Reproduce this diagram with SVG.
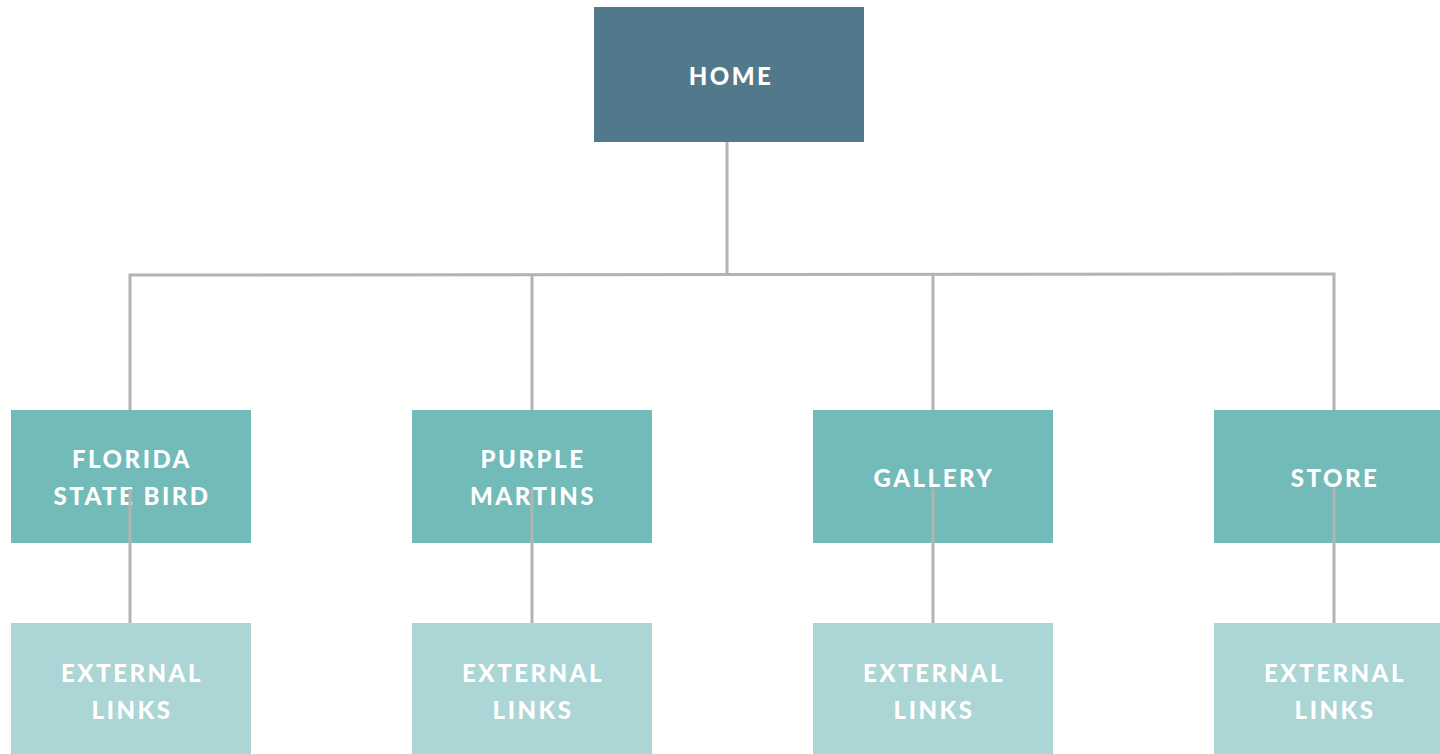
<svg xmlns="http://www.w3.org/2000/svg" width="1440" height="754" viewBox="0 0 1440 754">
<style>
.home{fill:#52788b}
.l2{fill:#72bbb9}
.l3{fill:#abd6d5}
.t{fill:#ffffff;font-family:Lato,"Liberation Sans",sans-serif;font-weight:900;font-size:24px;letter-spacing:2.5px;text-anchor:middle}
.c{stroke:#b3b3b3;stroke-width:3;fill:none}
</style>
<rect width="1440" height="754" fill="#ffffff"/>
<g id="home"><rect class="home" x="594" y="7" width="270" height="135"/><text class="t" x="731" y="85">HOME</text></g>
<g id="florida"><rect class="l2" x="11" y="410" width="240" height="133"/><text class="t" x="132" y="468">FLORIDA</text><text class="t" x="132" y="505">STATE BIRD</text></g>
<g id="purple"><rect class="l2" x="412" y="410" width="240" height="133"/><text class="t" x="533" y="468">PURPLE</text><text class="t" x="533" y="505">MARTINS</text></g>
<g id="gallery"><rect class="l2" x="813" y="410" width="240" height="133"/><text class="t" x="934" y="487">GALLERY</text></g>
<g id="store"><rect class="l2" x="1214" y="410" width="240" height="133"/><text class="t" x="1335" y="487">STORE</text></g>
<g id="ext1"><rect class="l3" x="11" y="623" width="240" height="140"/><text class="t" x="132" y="682">EXTERNAL</text><text class="t" x="132" y="719">LINKS</text></g>
<g id="ext2"><rect class="l3" x="412" y="623" width="240" height="140"/><text class="t" x="533" y="682">EXTERNAL</text><text class="t" x="533" y="719">LINKS</text></g>
<g id="ext3"><rect class="l3" x="813" y="623" width="240" height="140"/><text class="t" x="934" y="682">EXTERNAL</text><text class="t" x="934" y="719">LINKS</text></g>
<g id="ext4"><rect class="l3" x="1214" y="623" width="240" height="140"/><text class="t" x="1335" y="682">EXTERNAL</text><text class="t" x="1335" y="719">LINKS</text></g>
<g id="connectors">
<line class="c" x1="727" y1="142" x2="727" y2="274.5"/>
<polyline class="c" points="130,410 130,275 1334,274 1334,410"/>
<line class="c" x1="532" y1="274.7" x2="532" y2="410"/>
<line class="c" x1="933" y1="274.4" x2="933" y2="410"/>
<line class="c" x1="130" y1="489" x2="130" y2="623"/>
<line class="c" x1="532" y1="489" x2="532" y2="623"/>
<line class="c" x1="933" y1="489" x2="933" y2="623"/>
<line class="c" x1="1334" y1="488" x2="1334" y2="623"/>
</g>
</svg>
